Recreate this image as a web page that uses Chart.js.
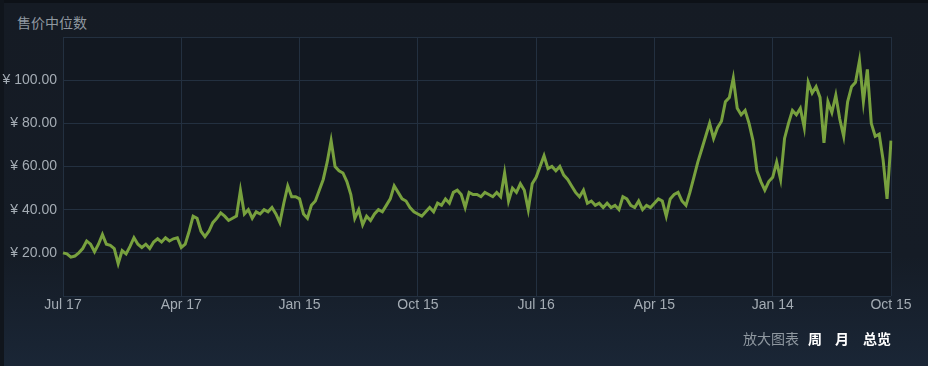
<!DOCTYPE html>
<html lang="zh-CN">
<head>
    <meta charset="UTF-8">
    <title>售价中位数</title>
    <script src="https://cdn.jsdelivr.net/npm/chart.js@4/dist/chart.umd.min.js"></script>
    <style>
        html, body {
            margin: 0;
            padding: 0;
        }

        body {
            width: 928px;
            height: 366px;
            overflow: hidden;
            position: relative;
            font-family: "Liberation Sans", Arial, "Noto Sans CJK SC", sans-serif;
            background: linear-gradient(to bottom, #151b24 0%, #151c26 70%, #1a2636 100%);
        }

        .top-bar {
            position: absolute;
            left: 0;
            top: 0;
            width: 928px;
            height: 3px;
            background: #0d1117;
        }

        .left-edge {
            position: absolute;
            left: 0;
            top: 0;
            width: 4px;
            height: 366px;
            background: #10151c;
        }

        .title {
            position: absolute;
            left: 17px;
            top: 12px;
            font-size: 14px;
            color: #8f98a0;
            font-family: "Noto Sans CJK SC", sans-serif;
        }

        .chart-box {
            position: absolute;
            left: 0;
            top: 0;
            width: 928px;
            height: 366px;
        }

        .zoom-ctrl {
            position: absolute;
            left: 743px;
            top: 328px;
            font-size: 14px;
            font-family: "Noto Sans CJK SC", sans-serif;
            color: #8f98a0;
            white-space: nowrap;
        }

        .zoom-ctrl b {
            color: #ffffff;
        }
    </style>
</head>
<body>
    <div class="top-bar"></div>
    <div class="left-edge"></div>
    <div class="title">售价中位数</div>
    <div class="chart-box"><canvas id="price-chart" width="928" height="366"></canvas></div>
    <div class="zoom-ctrl">放大图表<b style="margin-left:9px">周</b><b style="margin-left:13px">月</b><b style="margin-left:14px">总览</b></div>

    <script>
        // tick labels on the x axis, one every 30 points
        const tickLabels = ['Jul 17', 'Apr 17', 'Jan 15', 'Oct 15', 'Jul 16', 'Apr 15', 'Jan 14', 'Oct 15'];
        const pointsPerTick = 30;

        // median sale price
        const prices = [
            20, 19.5, 18, 18.5, 20, 22, 25.5, 24, 20.5, 24,
            28.5, 24, 23.5, 22, 15, 21, 19.5, 23, 27, 24,
            22.5, 24, 22, 25, 26.5, 25, 27, 25.5, 26.5, 27,
            22.5, 24, 30, 37, 36, 30, 27.5, 30, 34, 36,
            38.5, 37, 35, 36, 37, 49, 38, 40, 36, 39,
            38, 40, 39, 41, 38, 34, 43, 51, 46, 46,
            45, 38, 36, 42, 44, 49, 54, 62, 72, 60,
            58, 57, 53, 47, 36, 40, 33, 37, 35, 38,
            40, 39, 42, 45, 51, 48, 45, 44, 41, 39,
            38, 37, 39, 41, 39, 43, 42, 45, 43, 48,
            49, 47, 41, 48, 47, 47, 46, 48, 47, 46,
            48, 46, 57, 44, 50, 48, 52, 49, 40, 52,
            55, 60, 65, 59, 60, 58, 60, 56, 54, 51,
            48, 46, 49, 43, 44, 42, 43, 41, 43, 41,
            42, 40, 46, 45, 42, 41, 44, 40, 42, 41,
            43, 45, 44, 37, 45, 47, 48, 44, 42, 48,
            55, 62, 68, 74, 80, 73, 78, 81, 90, 92,
            101, 87, 84, 86, 80, 72, 58, 53, 49, 53,
            55, 62, 54, 73, 80, 86, 84, 87, 78, 99,
            94, 97, 92, 71, 90, 85, 93, 82, 74, 90,
            97, 99, 109, 90, 105, 80, 74, 75, 63, 45,
            72
        ];

        const yTicks = [20, 40, 60, 80, 100];

        // one category per point, label only every 30th
        const labels = prices.map(function(v, i) {
            return i % pointsPerTick === 0 ? tickLabels[i / pointsPerTick] : '';
        });

        const gridColor = '#233040';
        const tickFont = { size: 14, family: '"Liberation Sans", Arial, sans-serif' };

        // darker fill behind the plot area
        const plotBg = {
            id: 'plotBg',
            beforeDraw: function(chart) {
                const a = chart.chartArea;
                chart.ctx.save();
                chart.ctx.fillStyle = '#121821';
                chart.ctx.fillRect(a.left, a.top, a.right - a.left, a.bottom - a.top);
                chart.ctx.restore();
            }
        };

        const ctx = document.getElementById('price-chart').getContext('2d');
        new Chart(ctx, {
            type: 'line',
            data: {
                labels: labels,
                datasets: [{
                    label: '售价中位数',
                    data: prices,
                    borderColor: '#78a13e',
                    borderWidth: 3,
                    pointRadius: 0,
                    tension: 0,
                    fill: false
                }]
            },
            options: {
                responsive: false,
                animation: false,
                devicePixelRatio: 1,
                layout: {
                    padding: { left: 0, right: 37, top: 37, bottom: 40 }
                },
                plugins: {
                    legend: { display: false },
                    tooltip: { enabled: false }
                },
                scales: {
                    x: {
                        offset: false,
                        border: { display: false },
                        grid: {
                            drawTicks: false,
                            color: function(c) {
                                return c.index % pointsPerTick === 0 ? gridColor : 'transparent';
                            }
                        },
                        ticks: {
                            autoSkip: false,
                            maxRotation: 0,
                            padding: 1,
                            color: '#a4acb4',
                            font: tickFont,
                            callback: function(value, index) {
                                return labels[index];
                            }
                        },
                        afterFit: function(scale) {
                            scale.height = 30;
                        }
                    },
                    y: {
                        min: 0,
                        max: 120,
                        border: { display: false },
                        grid: {
                            drawTicks: false,
                            color: gridColor
                        },
                        ticks: {
                            stepSize: 20,
                            padding: 6,
                            color: '#a4acb4',
                            font: tickFont,
                            callback: function(value) {
                                return yTicks.includes(value) ? '¥ ' + value.toFixed(2) : '';
                            }
                        },
                        afterFit: function(scale) {
                            scale.width = 63;
                        }
                    }
                }
            },
            plugins: [plotBg]
        });
    </script>
</body>
</html>
